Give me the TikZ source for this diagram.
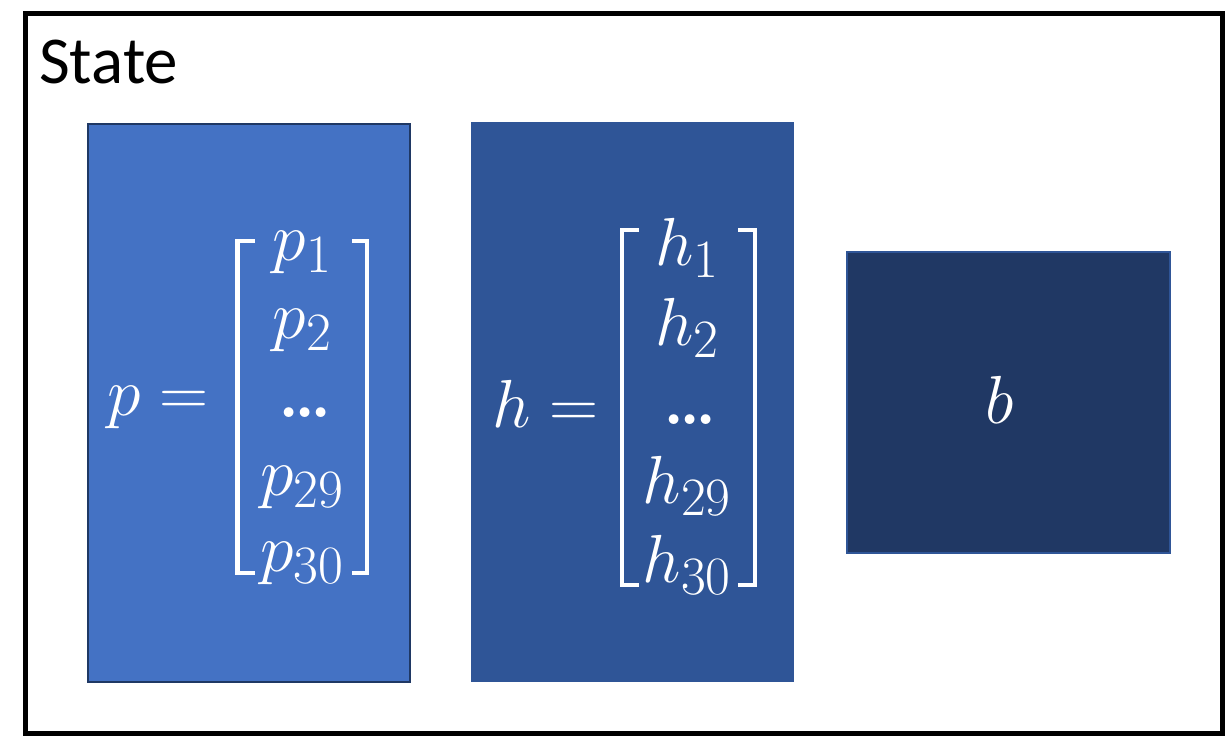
\RequirePackage{fix-cm}
\documentclass[tikz,border=0pt]{standalone}
\usepackage{fontspec}
\newfontfamily\carlito{Carlito}
\definecolor{pfill}{HTML}{4472C4}
\definecolor{pborder}{HTML}{1F3864}
\definecolor{hfill}{HTML}{2F5597}
\definecolor{bfill}{HTML}{203864}
\definecolor{bborder}{HTML}{2F5597}
\newcommand{\vdotsrow}{\textbf{.\kern-5pt.\kern-5pt.}}
\newcommand{\mysub}[1]{_{\hbox{\fontsize{54}{60}\selectfont #1}}}
\tikzset{
  vbox/.style={rectangle, inner sep=0pt, outer sep=0pt},
  brk/.style={draw=white, line width=4.5pt, line join=miter},
  mtxt/.style={text=white, inner sep=0pt, anchor=base, font=\fontsize{68}{80}\selectfont},
}
\begin{document}
\begin{tikzpicture}[x=1pt,y=-1pt]
\useasboundingbox (0,0) rectangle (1225,736);
\draw[line width=5pt] (25,13) rectangle (1222.5,733.5);
\node[anchor=base west, inner sep=0pt, font=\carlito\fontsize{67}{80}\selectfont] (title) at (39,83) {State};
% boxes
\node[vbox, fill=pfill, draw=pborder, line width=2pt, minimum width=322pt, minimum height=558pt] (pbox) at (249,403) {};
\node[vbox, fill=hfill, minimum width=323pt, minimum height=560pt] (hbox) at (632.5,402) {};
\node[vbox, fill=bfill, draw=bborder, line width=2pt, minimum width=323pt, minimum height=301pt] (bbox) at (1008,402) {};
% p vector
\node[mtxt, anchor=base west] (peq) at (107,415) {$p\mkern0mu=$};
\draw[brk] (255,241) -- (237.5,241) -- (237.5,573) -- (255,573);
\draw[brk] (352,241) -- (367,241) -- (367,573) -- (352,573);
\node[mtxt] (p1) at (302,260) {$p\mysub{1}$};
\node[mtxt] (p2) at (302,338) {$p\mysub{2}$};
\node[mtxt] (pd) at (305,417) {\vdotsrow};
\node[mtxt] (p29) at (302,495) {$p\mysub{29}$};
\node[mtxt] (p30) at (302,571) {$p\mysub{30}$};
% h vector
\node[mtxt, anchor=base west] (heq) at (492,427) {$h\mkern0mu=$};
\draw[brk] (639,230) -- (622,230) -- (622,585) -- (639,585);
\draw[brk] (738,230) -- (755,230) -- (755,585) -- (738,585);
\node[mtxt] (h1) at (687,265) {$h\mysub{1}$};
\node[mtxt] (h2) at (687,345) {$h\mysub{2}$};
\node[mtxt] (hd) at (690,424) {\vdotsrow};
\node[mtxt] (h29) at (687,503) {$h\mysub{29}$};
\node[mtxt] (h30) at (687,582) {$h\mysub{30}$};
% b
\node[mtxt] (bl) at (1000,423) {$b$};
\end{tikzpicture}
\end{document}
